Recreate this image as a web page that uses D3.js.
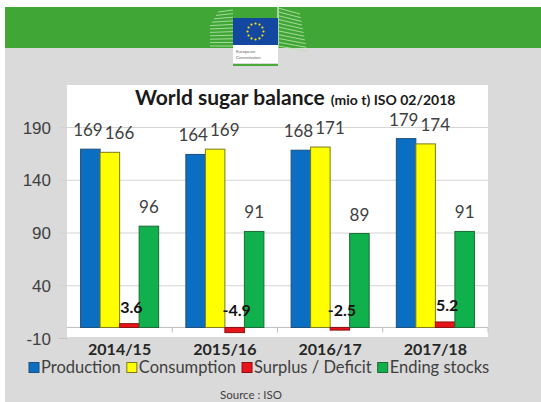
<!DOCTYPE html>
<html>
<head>
<meta charset="utf-8">
<script src="https://cdn.jsdelivr.net/npm/d3@7"></script>
<style>
  body { margin: 0; background: #fff; }
  svg { display: block; font-family: Lato, "Open Sans", sans-serif; }
</style>
</head>
<body>
<svg id="chart" width="541" height="402"></svg>
<script>
// World sugar balance, million tonnes (ISO, 02/2018)
const seasons = ["2014/15", "2015/16", "2016/17", "2017/18"];
const production = [169, 164, 168, 179];
const consumption = [166, 169, 171, 174];
const surplusDeficit = [3.6, -4.9, -2.5, 5.2];
const endingStocks = [96, 91, 89, 91];
const seriesNames = ["Production", "Consumption", "Surplus / Deficit", "Ending stocks"];
const yTicks = [-10, 40, 90, 140, 190];

const seriesValues = [production, consumption, surplusDeficit, endingStocks];
const fills = ["#0a6fc2", "#ffff00", "#e8141b", "#10b04c"];
const strokes = ["#1d4f7c", "#7d7a1c", "#8c1010", "#1a6b34"];

// plain hyphen-minus for negative numbers
const fmtBalance = v => v.toFixed(1);

const svg = d3.select("#chart");

// ---- page furniture: banner + grey slide background ----
svg.append("rect").attr("x", 5).attr("y", 48).attr("width", 536).attr("height", 354).attr("fill", "#dadada");
svg.append("rect").attr("x", 5).attr("y", 7).attr("width", 536).attr("height", 41).attr("fill", "#40a636");

// stylised building behind the logo
const bld = svg.append("g").attr("stroke", "#b9e3ad").attr("stroke-width", 1).attr("opacity", 0.85);
d3.range(0, 11).forEach(i => {
  const yy = 12 + i * 3.4;
  bld.append("line").attr("x1", 210 + Math.max(0, 8 - i * 2)).attr("x2", 233).attr("y1", yy).attr("y2", yy - 2 + i * 0.2);
  bld.append("line").attr("x1", 278).attr("x2", 300 + i * 0.7).attr("y1", yy - 4 + i * 0.4).attr("y2", yy + 2 + i * 0.3);
});
bld.append("line").attr("x1", 278).attr("x2", 278).attr("y1", 7).attr("y2", 48).attr("stroke-width", 2);

// logo
svg.append("rect").attr("x", 233).attr("y", 18).attr("width", 45).attr("height", 27).attr("fill", "#1448a0");
const stars = svg.append("g");
d3.range(12).forEach(i => {
  const a = i / 12 * 2 * Math.PI;
  stars.append("circle").attr("cx", 255.5 + 8 * Math.cos(a)).attr("cy", 31.5 + 8 * Math.sin(a)).attr("r", 1.1).attr("fill", "#ffe500");
});
svg.append("rect").attr("x", 233).attr("y", 45).attr("width", 45).attr("height", 18).attr("fill", "#ffffff");
svg.append("text").attr("x", 236).attr("y", 52.5).attr("font-size", 4.6).attr("fill", "#666").text("European");
svg.append("text").attr("x", 236).attr("y", 58.5).attr("font-size", 4.6).attr("fill", "#666").text("Commission");
svg.append("rect").attr("x", 233).attr("y", 64).attr("width", 45).attr("height", 2).attr("fill", "#4caa3c");

// ---- chart ----
const plot = { left: 67, right: 488, top: 85, bottom: 337 };
svg.append("rect").attr("x", plot.left).attr("y", plot.top)
  .attr("width", plot.right - plot.left).attr("height", plot.bottom - plot.top).attr("fill", "#ffffff");

const y = d3.scaleLinear().domain([-10, 190]).range([338, 127]);
const x0 = d3.scaleBand().domain(seasons).range([plot.left, plot.right]);
const groupPad = 13.6;
const x1 = d3.scaleBand().domain(seriesNames).range([groupPad, x0.bandwidth() - groupPad]);

// gridlines with ticks reaching into the margin
const yAxis = d3.axisLeft(y).tickValues(yTicks).tickSize(0).tickPadding(0);
const gAxis = svg.append("g").attr("transform", `translate(${plot.left},0)`).call(yAxis);
gAxis.select(".domain").remove();
gAxis.selectAll(".tick text").remove();
gAxis.selectAll(".tick line").attr("x1", -8).attr("x2", plot.right - plot.left)
  .attr("stroke", d => d === -10 ? "#c4c4c4" : "#d4d4d4").attr("stroke-width", 1)
  .filter(d => d === -10).attr("x2", 0);
gAxis.selectAll(".tick").append("text")
  .attr("x", -16).attr("dy", "0.36em").attr("text-anchor", "end")
  .attr("font-size", 17).attr("fill", "#404040").text(d => String(d));

// zero baseline with category separators
const zeroY = y(0);
svg.append("line").attr("x1", plot.left).attr("x2", plot.right).attr("y1", zeroY).attr("y2", zeroY)
  .attr("stroke", "#bfbfbf").attr("stroke-width", 1);
svg.append("g").selectAll("line").data(seasons.slice(1).concat([null]))
  .join("line")
  .attr("x1", (d, i) => i < seasons.length - 1 ? x0(d) : plot.right)
  .attr("x2", (d, i) => i < seasons.length - 1 ? x0(d) : plot.right)
  .attr("y1", zeroY).attr("y2", zeroY + 5).attr("stroke", "#bfbfbf");

// bars
const groups = svg.append("g").selectAll("g").data(seasons).join("g")
  .attr("transform", d => `translate(${x0(d)},0)`);
groups.selectAll("rect")
  .data((season, si) => seriesNames.map((name, k) => ({ name, k, v: seriesValues[k][si] })))
  .join("rect")
  .attr("x", d => x1(d.name))
  .attr("y", d => Math.min(y(d.v), zeroY))
  .attr("width", x1.bandwidth())
  .attr("height", d => Math.abs(y(d.v) - zeroY))
  .attr("fill", d => fills[d.k])
  .attr("stroke", d => strokes[d.k]).attr("stroke-width", 1);

// value labels
const labels = svg.append("g");
seasons.forEach((season, si) => {
  const gx = x0(season);
  const made = [];
  seriesNames.forEach((name, k) => {
    const v = seriesValues[k][si];
    const cx = gx + x1(name) + x1.bandwidth() / 2;
    const isBalance = k === 2;
    const base = isBalance ? Math.min(y(v), zeroY) - 11 : y(v) - 13;
    const t = labels.append("text")
      .attr("x", isBalance ? cx + 2 : cx).attr("y", base).attr("text-anchor", "middle")
      .attr("font-size", isBalance ? 16 : 17)
      .attr("font-weight", isBalance ? 700 : 400)
      .attr("fill", isBalance ? "#111" : "#404040")
      .text(isBalance ? fmtBalance(v) : v);
    made.push({ t, cx, w: t.node().getComputedTextLength() });
  });
  // nudge the production/consumption pair apart if their labels collide
  const a = made[0], b = made[1];
  const overlap = (a.cx + a.w / 2 + 2) - (b.cx - b.w / 2);
  if (overlap > 0) {
    a.t.attr("x", a.cx - overlap * 0.2);
    b.t.attr("x", b.cx + overlap * 0.8);
  }
});

// category labels
svg.append("g").selectAll("text").data(seasons).join("text")
  .attr("x", d => x0(d) + x0.bandwidth() / 2).attr("y", 355)
  .attr("text-anchor", "middle").attr("font-size", 16).attr("font-weight", 700).attr("fill", "#262626")
  .text(d => d);

// title
const title = svg.append("text").attr("x", 135).attr("y", 105).attr("fill", "#1a1a1a").attr("font-weight", 700);
title.append("tspan").attr("font-size", 21).text("World sugar balance");
title.append("tspan").attr("font-size", 14).attr("dx", 6).text("(mio t) ISO 02/2018");

// legend
const legend = svg.append("g");
let lx = 29;
seriesNames.forEach((name, k) => {
  legend.append("rect").attr("x", lx).attr("y", 362.5).attr("width", 10).attr("height", 10)
    .attr("fill", fills[k]).attr("stroke", strokes[k]);
  const t = legend.append("text").attr("x", lx + 12).attr("y", 373)
    .attr("font-size", 16.5).attr("fill", "#404040").text(name);
  lx += 12 + t.node().getComputedTextLength() + 6;
});

// source note
svg.append("text").attr("x", 220).attr("y", 399).attr("font-size", 11.5).attr("fill", "#404040").text("Source : ISO");
</script>
</body>
</html>
